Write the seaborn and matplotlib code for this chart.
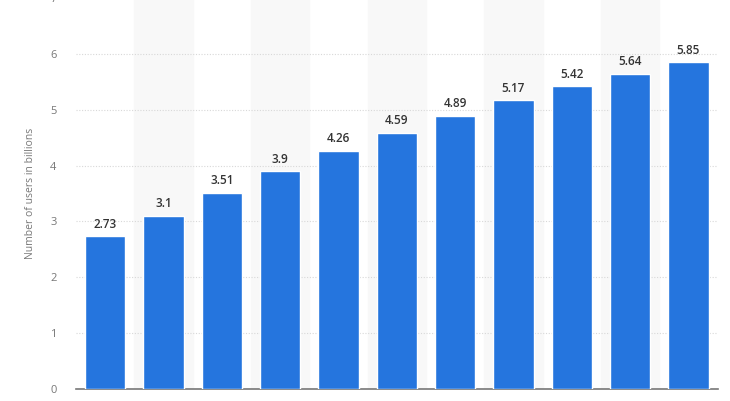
import matplotlib
matplotlib.use("Agg")
import matplotlib.pyplot as plt
import seaborn as sns
import pandas as pd

categories = [str(i) for i in range(11)]
values = [2.73, 3.1, 3.51, 3.9, 4.26, 4.59, 4.89, 5.17, 5.42, 5.64, 5.85]
labels = ["2.73", "3.1", "3.51", "3.9", "4.26", "4.59", "4.89", "5.17", "5.42", "5.64", "5.85"]

sns.set_style("white")
plt.rcParams['font.family'] = ['Open Sans', 'DejaVu Sans']
fig = plt.figure(figsize=(7.30, 4.01), dpi=100)
ax = fig.add_axes([0.104, 0.030, 0.879, 0.975])
df = pd.DataFrame({"c": categories, "v": values})
for i in range(1, 11, 2):
    ax.axvspan(i - 0.5, i + 0.5, color="#f8f8f8", zorder=0)
sns.barplot(data=df, x="c", y="v", color="#2575de", saturation=1, width=0.69, ax=ax, zorder=3)
for i, (v, t) in enumerate(zip(values, labels)):
    ax.text(i, v + 0.1, t, ha="center", va="bottom", fontsize=8.5, fontweight="semibold", color="#333333")
ax.set_xlim(-0.5, 10.5)
ax.set_ylim(0, 7)
ax.set_yticks(range(8))
ax.yaxis.grid(True, linestyle=(0, (1, 1.5)), color="#d8d8d8", linewidth=0.8)
ax.set_axisbelow(True)
for s in ["top", "right", "left"]:
    ax.spines[s].set_visible(False)
ax.spines["bottom"].set_color("#777777")
ax.spines["bottom"].set_linewidth(1.2)
ax.tick_params(axis="y", length=0, labelsize=8, labelcolor="#777777", pad=14)
ax.set_xticks([])
ax.set_xlabel("")
ax.set_ylabel("Number of users in billions", fontsize=7.5, color="#777777", labelpad=10)
fig.savefig("out.png", dpi=100)
